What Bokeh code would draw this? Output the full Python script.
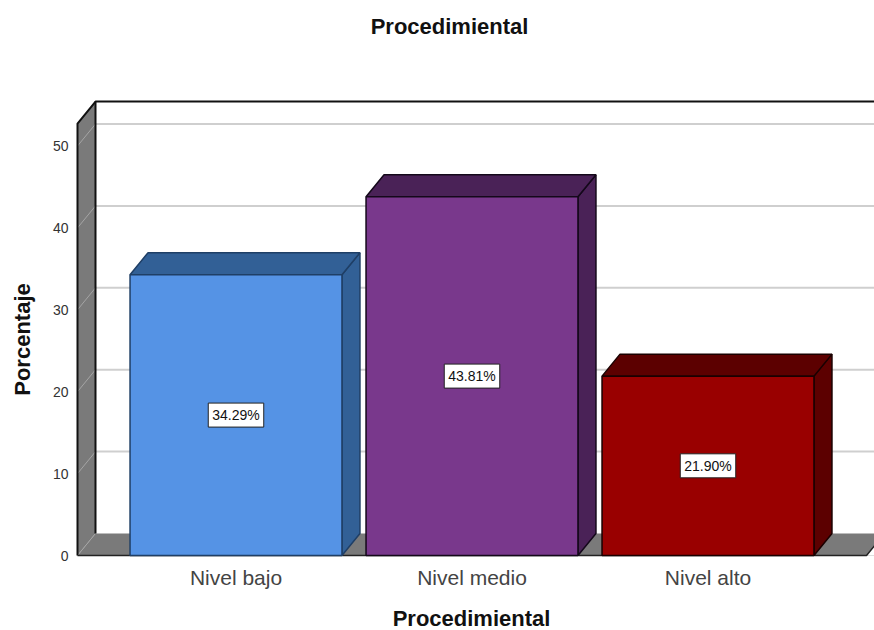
from bokeh.embed import file_html
from bokeh.models import FixedTicker, Label, Range1d
from bokeh.plotting import figure
from bokeh.resources import INLINE

# Chart content
title_text = "Procedimiental"
x_title = "Procedimiental"
y_title = "Porcentaje"
categories = ["Nivel bajo", "Nivel medio", "Nivel alto"]
percentages = [34.29, 43.81, 21.90]
value_labels = ["34.29%", "43.81%", "21.90%"]
y_ticks = [0, 10, 20, 30, 40, 50]

# Colours: front face, and the shaded top and side of each bar
front_colors = ["#5593E5", "#79388C", "#990000"]
shade_colors = ["#326096", "#4A2257", "#5C0000"]
edge_colors = ["#1F3F66", "#14081A", "#1A0000"]
wall_color = "#7A7A7A"
grid_color = "#CFCFCF"

# The frame fills the page, so both scales are given as pixels per unit
WIDTH, HEIGHT = 874, 630
PX_PER_CATEGORY = 236.0
PX_PER_PERCENT = 8.19
ORIGIN_LEFT = 235.5   # page x of the first category
ORIGIN_BOTTOM = 555   # page y of 0 %

x_lo = -ORIGIN_LEFT / PX_PER_CATEGORY
x_hi = (WIDTH - ORIGIN_LEFT) / PX_PER_CATEGORY
y_lo = -(HEIGHT - ORIGIN_BOTTOM) / PX_PER_PERCENT
y_hi = ORIGIN_BOTTOM / PX_PER_PERCENT

# Oblique projection of the 3-D box, in axis units
depth_x = 18 / PX_PER_CATEGORY
depth_y = 22 / PX_PER_PERCENT
half_bar = 0.449
x_min = (77 - ORIGIN_LEFT) / PX_PER_CATEGORY
floor_right = (866 - ORIGIN_LEFT) / PX_PER_CATEGORY
wall_height = 52.74
back_x = x_min + depth_x

p = figure(
    width=WIDTH, height=HEIGHT,
    output_backend="svg", toolbar_location=None,
    x_range=Range1d(x_lo, x_hi), y_range=Range1d(y_lo, y_hi),
    min_border=0, outline_line_color=None, background_fill_color="white",
)
p.grid.visible = False

# Axes sit at the box's front corner: labels only
p.xaxis.fixed_location = 0
p.yaxis.fixed_location = x_min
p.yaxis.ticker = FixedTicker(ticks=y_ticks)
p.xaxis.ticker = FixedTicker(ticks=list(range(len(categories))))
p.xaxis.major_label_overrides = {i: c for i, c in enumerate(categories)}
for ax in (p.xaxis[0], p.yaxis[0]):
    ax.axis_line_color = None
    ax.major_tick_line_color = None
    ax.minor_tick_line_color = None
    ax.major_label_text_font = "Liberation Sans"
p.yaxis.major_label_text_font_size = "14px"
p.yaxis.major_label_text_color = "#333333"
p.yaxis.major_label_standoff = 3
p.xaxis.major_label_text_font_size = "21px"
p.xaxis.major_label_text_color = "#444444"
p.xaxis.major_label_standoff = 4

# Back wall gridlines
for t in y_ticks[1:]:
    p.line([back_x, x_hi], [t + depth_y] * 2, line_color=grid_color, line_width=2)

# Floor
p.patch(
    [x_min, back_x, x_hi + 0.1, x_hi + 0.1, floor_right],
    [0, depth_y, depth_y, 0, 0],
    fill_color=wall_color, line_color=None,
)
p.patch(
    [floor_right, floor_right + depth_x, x_hi + 0.1, x_hi + 0.1],
    [0, depth_y, depth_y, 0],
    fill_color="white", line_color=None,
)
p.line([x_min, floor_right, floor_right + depth_x], [0, 0, depth_y], line_color="#222222", line_width=1.5)

# Left wall with its gridlines
p.patch(
    [x_min, back_x, back_x, x_min],
    [0, depth_y, wall_height + depth_y, wall_height],
    fill_color=wall_color, line_color=None,
)
for t in y_ticks[1:]:
    p.line([x_min, back_x], [t, t + depth_y], line_color="#A5A5A5", line_width=1)
p.line([x_min, back_x], [0, depth_y], line_color="#A5A5A5", line_width=1)
p.line(
    [x_min, x_min, back_x, x_hi],
    [0, wall_height, wall_height + depth_y, wall_height + depth_y],
    line_color="#111111", line_width=2,
)
p.line([back_x, back_x], [depth_y, wall_height + depth_y], line_color="#111111", line_width=2)

# Bars: side, top, then front face
for i, v in enumerate(percentages):
    left, right = i - half_bar, i + half_bar
    p.patch(
        [right, right + depth_x, right + depth_x, right],
        [0, depth_y, v + depth_y, v],
        fill_color=shade_colors[i], line_color=edge_colors[i], line_width=1.5,
    )
    p.patch(
        [left, left + depth_x, right + depth_x, right],
        [v, v + depth_y, v + depth_y, v],
        fill_color=shade_colors[i], line_color=edge_colors[i], line_width=1.5,
    )
    p.quad(
        left=left, right=right, bottom=0, top=v,
        fill_color=front_colors[i], line_color=edge_colors[i], line_width=1.5,
    )
    p.add_layout(Label(
        x=i, y=v / 2, text=value_labels[i],
        text_align="center", text_baseline="middle",
        text_font="Liberation Sans", text_font_size="14px", text_color="#111111",
        background_fill_color="white", border_line_color="#222222", border_line_width=1,
        padding=4,
    ))

# Chart and axis titles, placed in page pixels
def page_label(text, px, py, angle=0):
    p.add_layout(Label(
        x=px, y=HEIGHT - py, x_units="screen", y_units="screen",
        text=text, angle=angle, text_align="center", text_baseline="middle",
        text_font="Liberation Sans", text_font_style="bold",
        text_font_size="22px", text_color="#111111",
    ))

page_label(title_text, 449, 26)
page_label(x_title, 471, 618)
page_label(y_title, 22, 339, angle=1.5708)

open("out.html", "w").write(file_html(p, INLINE))
